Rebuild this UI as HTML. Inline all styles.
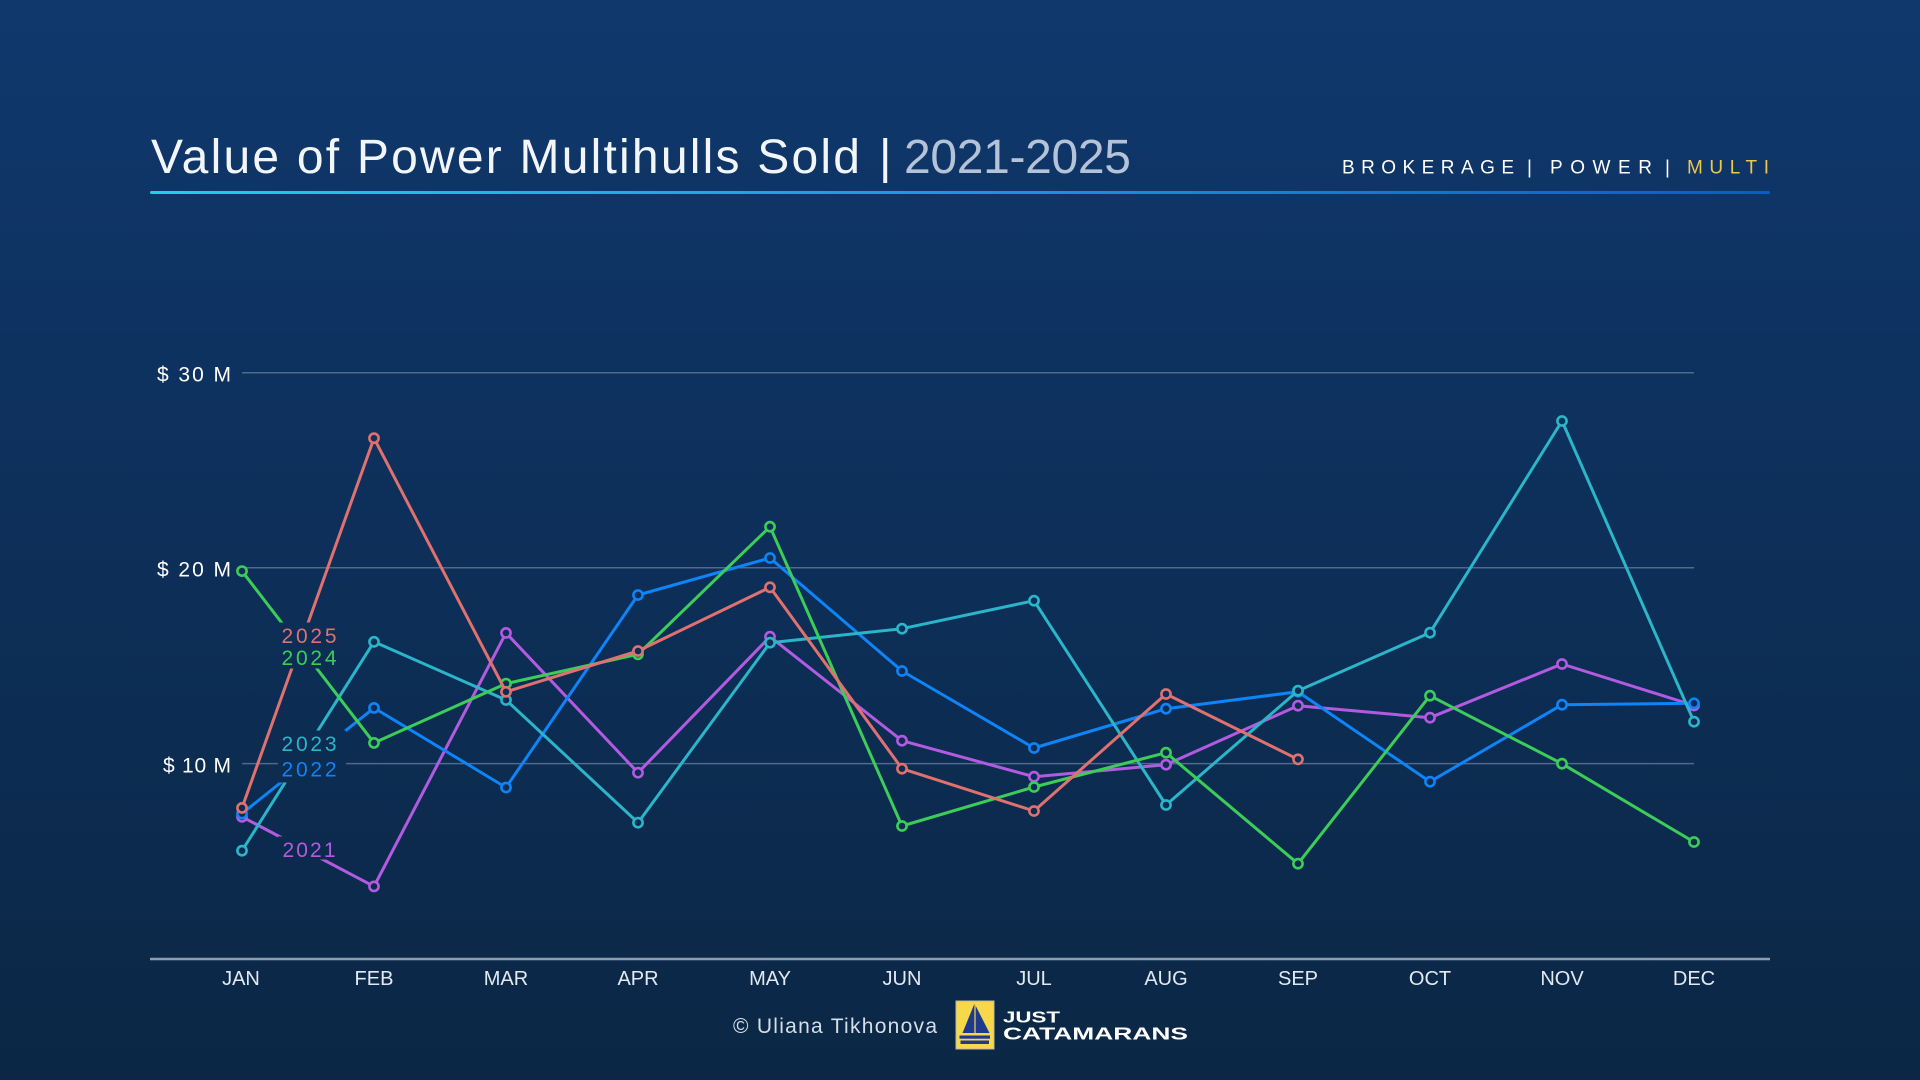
<!DOCTYPE html>
<html>
<head>
<meta charset="utf-8">
<style>
  html, body { margin: 0; padding: 0; width: 1920px; height: 1080px; overflow: hidden; background: #0d2f59; }
  svg { display: block; }
  text { font-family: "Liberation Sans", "DejaVu Sans", sans-serif; }
</style>
</head>
<body>
<svg width="1920" height="1080" viewBox="0 0 1920 1080" xmlns="http://www.w3.org/2000/svg">
  <defs>
    <linearGradient id="bg" gradientUnits="userSpaceOnUse" x1="0" y1="0" x2="0" y2="1080">
      <stop offset="0" stop-color="#10386d"/>
      <stop offset="0.5" stop-color="#0d2f59"/>
      <stop offset="1" stop-color="#0b2745"/>
    </linearGradient>
    <linearGradient id="ul" gradientUnits="userSpaceOnUse" x1="150" y1="0" x2="1770" y2="0">
      <stop offset="0" stop-color="#1fd0e8"/>
      <stop offset="0.55" stop-color="#1a92dc"/>
      <stop offset="1" stop-color="#0c5bc5"/>
    </linearGradient>
  </defs>

  <rect x="0" y="0" width="1920" height="1080" fill="url(#bg)"/>

  <!-- Title -->
  <text x="151" y="173" font-size="48" fill="#f2f6fb" textLength="709" lengthAdjust="spacing">Value of Power Multihulls Sold</text>
  <text x="879" y="173" font-size="48" fill="#f2f6fb">|</text>
  <text x="904" y="173" font-size="48" fill="#b4c3d8" textLength="227" lengthAdjust="spacing">2021-2025</text>

  <!-- Right header -->
  <text x="1342" y="173.5" font-size="19" fill="#ffffff" textLength="172" lengthAdjust="spacing">BROKERAGE</text>
  <text x="1527" y="173.5" font-size="19" fill="#ffffff">|</text>
  <text x="1550" y="173.5" font-size="19" fill="#ffffff" textLength="102" lengthAdjust="spacing">POWER</text>
  <text x="1665" y="173.5" font-size="19" fill="#ffffff">|</text>
  <text x="1687" y="173.5" font-size="19" fill="#ecc94d" textLength="82" lengthAdjust="spacing">MULTI</text>

  <!-- Underline -->
  <rect x="150" y="191" width="1620" height="3" rx="1.5" fill="url(#ul)"/>

  <!-- Grid lines -->
  <g stroke="#4f6a8b" stroke-width="1.5">
    <line x1="242" y1="372.7" x2="1694" y2="372.7"/>
    <line x1="242" y1="567.7" x2="1694" y2="567.7"/>
    <line x1="242" y1="763.6" x2="1694" y2="763.6"/>
  </g>

  <!-- Y labels -->
  <g font-size="21" fill="#ffffff">
    <text x="157" y="381.5" textLength="74" lengthAdjust="spacing">$ 30 M</text>
    <text x="157" y="576.5" textLength="74" lengthAdjust="spacing">$ 20 M</text>
    <text x="163" y="772.5" textLength="68" lengthAdjust="spacing">$ 10 M</text>
  </g>

  <!-- Axis -->
  <line x1="150" y1="959" x2="1770" y2="959" stroke="#8c9db2" stroke-width="2.5"/>

  <!-- Month labels -->
  <g font-size="20" fill="#e3e9f1" text-anchor="middle">
    <text x="241" y="985">JAN</text>
    <text x="374" y="985">FEB</text>
    <text x="506" y="985">MAR</text>
    <text x="638" y="985">APR</text>
    <text x="770" y="985">MAY</text>
    <text x="902" y="985">JUN</text>
    <text x="1034" y="985">JUL</text>
    <text x="1166" y="985">AUG</text>
    <text x="1298" y="985">SEP</text>
    <text x="1430" y="985">OCT</text>
    <text x="1562" y="985">NOV</text>
    <text x="1694" y="985">DEC</text>
  </g>

  <!-- Series -->
  <g fill="none" stroke-width="3" stroke-linejoin="round" stroke-linecap="round">
    <!-- 2021 -->
    <polyline stroke="#b35be0" points="242,816.8 374,886.4 506,632.9 638,772.7 770,636.7 902,740.7 1034,776.7 1166,764.7 1298,705.7 1430,717.7 1562,664 1694,705.5"/>
    <g stroke="#b35be0" fill="url(#bg)" stroke-width="2.6">
      <circle cx="242" cy="816.8" r="4.6"/><circle cx="374" cy="886.4" r="4.6"/><circle cx="506" cy="632.9" r="4.6"/>
      <circle cx="638" cy="772.7" r="4.6"/><circle cx="770" cy="636.7" r="4.6"/><circle cx="902" cy="740.7" r="4.6"/>
      <circle cx="1034" cy="776.7" r="4.6"/><circle cx="1166" cy="764.7" r="4.6"/><circle cx="1298" cy="705.7" r="4.6"/>
      <circle cx="1430" cy="717.7" r="4.6"/><circle cx="1562" cy="664" r="4.6"/><circle cx="1694" cy="705.5" r="4.6"/>
    </g>
    <!-- 2022 -->
    <polyline stroke="#0d84f7" points="242,813.6 374,707.9 506,787.5 638,595 770,558 902,671 1034,748 1166,708.7 1298,691.7 1430,781.7 1562,704.7 1694,703.3"/>
    <g stroke="#0d84f7" fill="url(#bg)" stroke-width="2.6">
      <circle cx="242" cy="813.6" r="4.6"/><circle cx="374" cy="707.9" r="4.6"/><circle cx="506" cy="787.5" r="4.6"/>
      <circle cx="638" cy="595" r="4.6"/><circle cx="770" cy="558" r="4.6"/><circle cx="902" cy="671" r="4.6"/>
      <circle cx="1034" cy="748" r="4.6"/><circle cx="1166" cy="708.7" r="4.6"/><circle cx="1298" cy="691.7" r="4.6"/>
      <circle cx="1430" cy="781.7" r="4.6"/><circle cx="1562" cy="704.7" r="4.6"/><circle cx="1694" cy="703.3" r="4.6"/>
    </g>
    <!-- 2023 -->
    <polyline stroke="#2bb5c9" points="242,850.7 374,641.8 506,700 638,822.7 770,642.7 902,628.7 1034,600.7 1166,805 1298,690.7 1430,632.7 1562,421 1694,721.7"/>
    <g stroke="#2bb5c9" fill="url(#bg)" stroke-width="2.6">
      <circle cx="242" cy="850.7" r="4.6"/><circle cx="374" cy="641.8" r="4.6"/><circle cx="506" cy="700" r="4.6"/>
      <circle cx="638" cy="822.7" r="4.6"/><circle cx="770" cy="642.7" r="4.6"/><circle cx="902" cy="628.7" r="4.6"/>
      <circle cx="1034" cy="600.7" r="4.6"/><circle cx="1166" cy="805" r="4.6"/><circle cx="1298" cy="690.7" r="4.6"/>
      <circle cx="1430" cy="632.7" r="4.6"/><circle cx="1562" cy="421" r="4.6"/><circle cx="1694" cy="721.7" r="4.6"/>
    </g>
    <!-- 2024 -->
    <polyline stroke="#3ccd58" points="242,571.1 374,742.9 506,683.6 638,654.3 770,526.7 902,826 1034,787 1166,752.7 1298,863.7 1430,695.7 1562,763.7 1694,842"/>
    <g stroke="#3ccd58" fill="url(#bg)" stroke-width="2.6">
      <circle cx="242" cy="571.1" r="4.6"/><circle cx="374" cy="742.9" r="4.6"/><circle cx="506" cy="683.6" r="4.6"/>
      <circle cx="638" cy="654.3" r="4.6"/><circle cx="770" cy="526.7" r="4.6"/><circle cx="902" cy="826" r="4.6"/>
      <circle cx="1034" cy="787" r="4.6"/><circle cx="1166" cy="752.7" r="4.6"/><circle cx="1298" cy="863.7" r="4.6"/>
      <circle cx="1430" cy="695.7" r="4.6"/><circle cx="1562" cy="763.7" r="4.6"/><circle cx="1694" cy="842" r="4.6"/>
    </g>
    <!-- 2025 -->
    <polyline stroke="#e0716f" points="242,807.9 374,438.2 506,691.8 638,651 770,587.3 902,768.7 1034,811 1166,694 1298,759.3"/>
    <g stroke="#e0716f" fill="url(#bg)" stroke-width="2.6">
      <circle cx="242" cy="807.9" r="4.6"/><circle cx="374" cy="438.2" r="4.6"/><circle cx="506" cy="691.8" r="4.6"/>
      <circle cx="638" cy="651" r="4.6"/><circle cx="770" cy="587.3" r="4.6"/><circle cx="902" cy="768.7" r="4.6"/>
      <circle cx="1034" cy="811" r="4.6"/><circle cx="1166" cy="694" r="4.6"/><circle cx="1298" cy="759.3" r="4.6"/>
    </g>
  </g>

  <!-- Series label knockouts -->
  <g fill="url(#bg)">
    <rect x="278" y="622.5" width="68" height="46"/>
    <rect x="278" y="730.5" width="68" height="52"/>
    <rect x="278" y="836.5" width="62" height="23"/>
  </g>
  <g font-size="21">
    <text x="281.5" y="643" fill="#e0716f" textLength="55" lengthAdjust="spacing">2025</text>
    <text x="281.5" y="665" fill="#3ccd58" textLength="55" lengthAdjust="spacing">2024</text>
    <text x="281.5" y="751" fill="#2bb5c9" textLength="55" lengthAdjust="spacing">2023</text>
    <text x="281.5" y="776.5" fill="#0d84f7" textLength="55" lengthAdjust="spacing">2022</text>
    <text x="282.5" y="857" fill="#b35be0" textLength="53" lengthAdjust="spacing">2021</text>
  </g>

  <!-- Footer -->
  <text x="733" y="1033" font-size="21" fill="#d6dee8" textLength="204" lengthAdjust="spacing">© Uliana Tikhonova</text>

  <g>
    <rect x="956" y="1001" width="38" height="48" fill="#f7d84b" stroke="#b9b9a6" stroke-width="1"/>
    <polygon points="974.5,1003.5 962.5,1033 989.5,1033" fill="#1e3a8c"/>
    <line x1="975" y1="1004" x2="975" y2="1033" stroke="#f7d84b" stroke-width="1.2"/>
    <rect x="959.5" y="1035.5" width="30.5" height="3.2" fill="#1e3a8c"/>
    <rect x="960.5" y="1040.5" width="28.5" height="3.5" fill="#1e3a8c"/>
  </g>
  <text x="1003" y="1022.3" font-size="16" font-weight="700" fill="#ffffff" textLength="57" lengthAdjust="spacingAndGlyphs">JUST</text>
  <text x="1003" y="1039.3" font-size="17.5" font-weight="700" fill="#ffffff" textLength="185" lengthAdjust="spacingAndGlyphs">CATAMARANS</text>
</svg>
</body>
</html>
